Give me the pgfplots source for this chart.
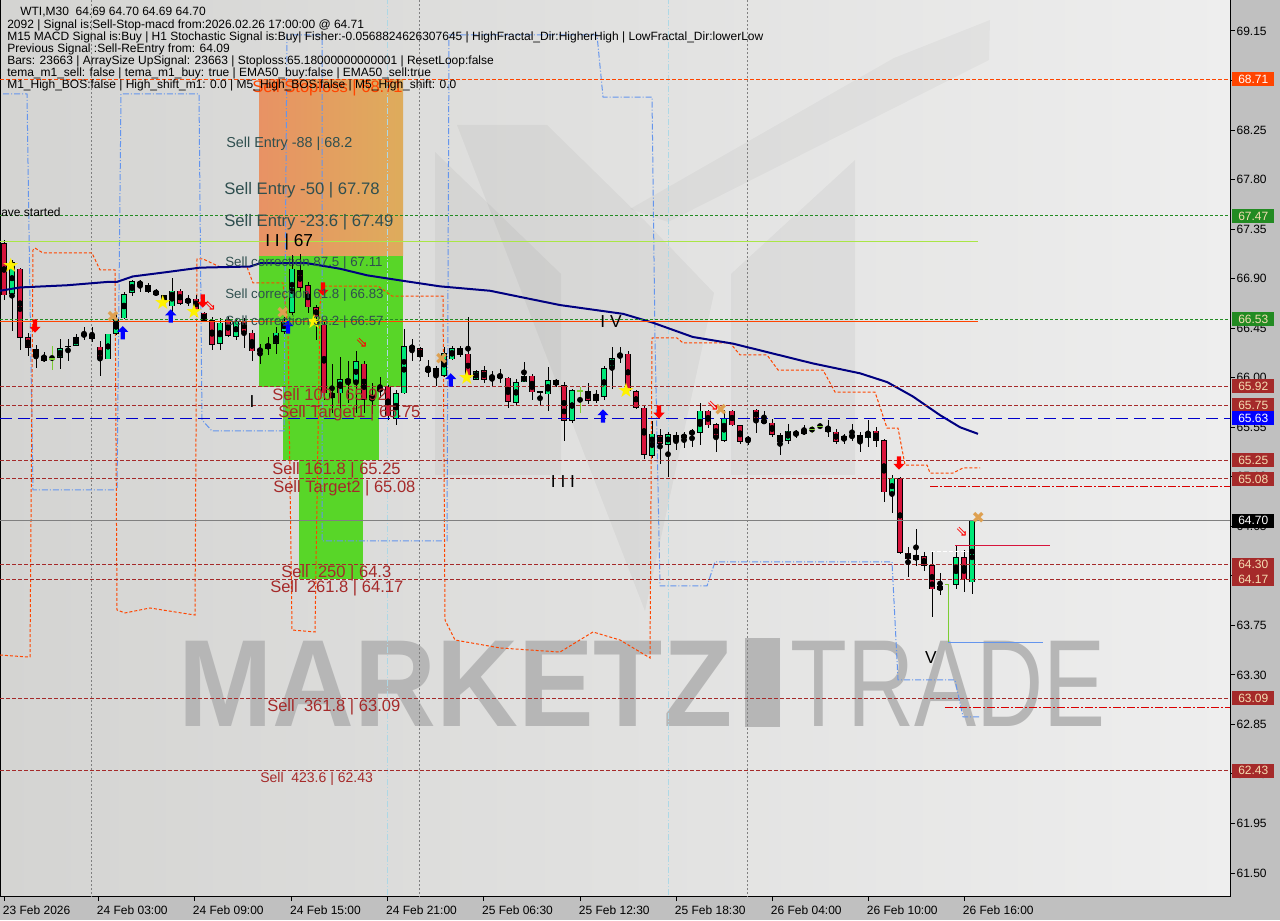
\documentclass[border=0pt]{standalone}
\usepackage{fontspec}
\setmainfont{Liberation Sans}
\newfontfamily\dejavu{DejaVu Sans}
\usepackage{pgfplots}
\pgfplotsset{compat=1.18}
\usepackage{pgfplotstable}

\definecolor{outerbg}{RGB}{192,192,192}
\definecolor{bgL}{RGB}{212,212,210}
\definecolor{bgR}{RGB}{238,238,238}
\definecolor{bull}{RGB}{0,232,120}
\definecolor{bear}{RGB}{215,20,60}
\definecolor{lgr}{RGB}{124,205,50}
\definecolor{emac}{RGB}{0,0,128}
\definecolor{brownl}{RGB}{165,42,42}
\definecolor{orred}{RGB}{255,69,0}
\definecolor{fgreen}{RGB}{34,139,34}
\definecolor{slate}{RGB}{47,79,79}
\definecolor{ygreen}{RGB}{170,230,70}
\definecolor{cblue}{RGB}{100,149,237}
\definecolor{boxgreen}{RGB}{88,214,40}
\definecolor{orL}{RGB}{232,146,100}
\definecolor{orR}{RGB}{222,172,92}
\definecolor{lcyan}{RGB}{173,216,230}
\definecolor{tanx}{RGB}{222,160,80}
\definecolor{wheatt}{RGB}{245,222,179}
\definecolor{wm}{RGB}{182,182,182}

\pgfdeclareplotmark{uparr}{%
  \pgfpathmoveto{\pgfqpoint{0pt}{5pt}}%
  \pgfpathlineto{\pgfqpoint{4.2pt}{0.6pt}}%
  \pgfpathlineto{\pgfqpoint{1.6pt}{0.6pt}}%
  \pgfpathlineto{\pgfqpoint{1.6pt}{-5pt}}%
  \pgfpathlineto{\pgfqpoint{-1.6pt}{-5pt}}%
  \pgfpathlineto{\pgfqpoint{-1.6pt}{0.6pt}}%
  \pgfpathlineto{\pgfqpoint{-4.2pt}{0.6pt}}%
  \pgfpathclose\pgfusepathqfill}
\pgfdeclareplotmark{dnarr}{%
  \pgfpathmoveto{\pgfqpoint{0pt}{-5pt}}%
  \pgfpathlineto{\pgfqpoint{4.2pt}{-0.6pt}}%
  \pgfpathlineto{\pgfqpoint{1.6pt}{-0.6pt}}%
  \pgfpathlineto{\pgfqpoint{1.6pt}{5pt}}%
  \pgfpathlineto{\pgfqpoint{-1.6pt}{5pt}}%
  \pgfpathlineto{\pgfqpoint{-1.6pt}{-0.6pt}}%
  \pgfpathlineto{\pgfqpoint{-4.2pt}{-0.6pt}}%
  \pgfpathclose\pgfusepathqfill}

\pgfplotstableread{
i O H L C
1 66.76 67.07 66.42 67.05
7 66.18 66.35 66.08 66.27
9 66.29 66.40 66.29 66.37
10 66.38 66.46 66.34 66.40
13 66.17 66.40 66.17 66.40
14 66.40 66.60 66.39 66.53
15 66.54 66.78 66.53 66.76
16 66.77 66.89 66.74 66.88
21 66.65 66.91 66.60 66.79
23 66.68 66.75 66.65 66.72
27 66.31 66.54 66.25 66.50
29 66.37 66.54 66.34 66.51
32 66.24 66.31 66.13 66.26
33 66.26 66.37 66.21 66.31
34 66.31 66.46 66.22 66.41
35 66.42 66.55 66.40 66.52
36 66.59 67.12 66.57 66.99
41 65.82 66.13 65.68 65.86
42 65.86 66.19 65.69 65.99
44 65.96 66.24 65.68 66.15
46 65.80 65.95 65.67 65.84
47 65.88 66.01 65.82 65.91
49 65.63 65.89 65.57 65.86
50 65.86 66.44 65.85 66.29
53 66.05 66.16 66.01 66.09
55 66.02 66.28 66.01 66.22
56 66.17 66.29 66.16 66.27
59 65.98 66.07 65.98 66.06
61 65.99 66.06 65.92 66.02
64 65.77 65.99 65.75 65.96
65 65.96 66.14 65.96 66.02
68 65.85 66.10 65.70 65.98
71 65.61 65.90 65.59 65.89
74 65.79 65.89 65.77 65.85
75 65.83 66.11 65.80 66.09
76 66.10 66.28 65.90 66.18
77 66.19 66.28 66.13 66.21
81 65.29 65.61 65.27 65.49
83 65.39 65.51 65.10 65.49
85 65.45 65.51 65.36 65.48
86 65.49 65.53 65.37 65.51
87 65.50 65.77 65.39 65.70
90 65.43 65.71 65.42 65.63
93 65.43 65.47 65.39 65.45
98 65.43 65.58 65.40 65.52
100 65.49 65.57 65.48 65.53
105 65.43 65.49 65.40 65.47
106 65.46 65.58 65.43 65.48
108 65.45 65.62 65.37 65.51
111 64.94 65.12 64.77 65.09
114 64.34 64.63 64.29 64.39
117 64.07 64.23 64.03 64.11
119 64.12 64.47 64.08 64.37
121 64.14 64.70 64.04 64.70
}\bulltab

\pgfplotstableread{
i O H L C
0 67.22 67.25 66.71 66.75
2 66.99 67.00 66.25 66.36
3 66.37 66.41 66.20 66.27
4 66.26 66.30 66.09 66.20
5 66.20 66.23 66.14 66.15
11 66.40 66.46 66.32 66.35
12 66.28 66.33 66.02 66.17
17 66.87 66.89 66.78 66.84
18 66.84 66.86 66.77 66.78
19 66.79 66.81 66.74 66.75
20 66.75 66.75 66.65 66.69
22 66.79 66.81 66.66 66.67
24 66.72 66.75 66.60 66.62
25 66.59 66.60 66.51 66.52
26 66.52 66.55 66.25 66.30
28 66.53 66.55 66.37 66.38
30 66.52 66.54 66.27 66.42
31 66.41 66.43 66.15 66.24
37 66.98 67.12 66.78 66.82
38 66.84 66.87 66.59 66.64
39 66.64 66.66 66.34 66.55
40 66.48 66.51 65.80 65.86
43 65.99 66.15 65.77 65.95
45 66.13 66.15 65.68 65.80
48 65.92 65.93 65.62 65.65
51 66.29 66.35 66.15 66.26
52 66.27 66.28 66.15 66.19
54 66.09 66.11 65.93 66.02
57 66.27 66.29 66.19 66.21
58 66.22 66.55 65.98 66.00
60 66.07 66.11 65.95 65.98
62 66.03 66.08 65.95 66.00
63 66.00 66.01 65.73 65.78
66 66.02 66.03 65.80 65.87
69 65.98 65.99 65.92 65.93
70 65.93 65.96 65.43 65.61
73 65.88 65.95 65.76 65.79
78 66.22 66.24 65.86 65.88
79 65.88 65.89 65.72 65.73
80 65.73 65.74 65.26 65.30
82 65.48 65.53 65.22 65.40
84 65.48 65.51 65.34 65.43
88 65.70 65.71 65.54 65.57
89 65.58 65.59 65.33 65.45
91 65.70 65.71 65.56 65.57
92 65.57 65.57 65.40 65.42
94 65.71 65.72 65.50 65.62
95 65.62 65.70 65.58 65.59
96 65.59 65.63 65.46 65.48
97 65.48 65.50 65.30 65.42
99 65.51 65.53 65.45 65.48
103 65.55 65.62 65.46 65.51
104 65.51 65.53 65.40 65.42
107 65.48 65.51 65.33 65.43
109 65.52 65.55 65.37 65.43
110 65.43 65.44 64.87 64.96
112 65.09 65.10 64.40 64.41
113 64.41 64.46 64.19 64.35
115 64.38 64.42 64.24 64.29
116 64.30 64.42 63.83 64.08
120 64.37 64.44 64.05 64.17
}\beartab

\pgfplotstableread{
i O H L C
8 66.28 66.35 66.15 66.28
67 65.87 65.88 65.75 65.87
}\dojitab

\pgfplotstableread{
i O H L C
6 66.17 66.29 66.07 66.17
72 65.88 65.92 65.68 65.88
101 65.53 65.56 65.50 65.53
102 65.56 65.59 65.53 65.56
}\lgtab

\pgfplotsset{
  wick/.style={only marks, mark=none, forget plot,
    error bars/.cd, y dir=both, y explicit, error mark=none,
    error bar style={line width=0.75pt, draw=#1}},
  bodyout/.style={only marks, mark=none, forget plot,
    error bars/.cd, y dir=both, y explicit, error mark=none,
    error bar style={line width=4.6pt, draw=black}},
  bodyin/.style={only marks, mark=none, forget plot,
    error bars/.cd, y dir=both, y explicit, error mark=none,
    error bar style={line width=3.6pt, draw=#1}},
  brownd/.style={brownl, line width=0.75pt, dash pattern=on 3pt off 1.5pt, forget plot},
  greend/.style={fgreen, line width=0.75pt, dash pattern=on 2.25pt off 1.5pt, forget plot},
}

\begin{document}
\begin{tikzpicture}
\fill[outerbg] (0,0) rectangle (960pt,690pt);
\path[use as bounding box] (0,0) rectangle (960pt,690pt);
\begin{scope}[shift={(0pt,690pt)}, x=0.75pt, y=-0.75pt]
  \shade[left color=bgL, right color=bgR] (0,0) rectangle (1230,896);
  % logo (subtle)
  \fill[black, opacity=0.04] (435,152) -- (561,274) -- (561,475) -- (435,475) -- cycle;
  \fill[black, opacity=0.04] (457,125) -- (547,125) -- (645,221) -- (714,293) -- (645,611) -- cycle;
  \fill[black, opacity=0.04] (731,274) -- (855,160) -- (855,475) -- (731,475) -- cycle;
  \fill[black, opacity=0.03] (630,209) -- (894,58) -- (990,20) -- (989,60) -- (668,222) -- cycle;
  % watermark
  \node[anchor=base west, inner sep=0pt, text=wm, font=\bfseries\fontsize{93}{93}\selectfont] at (178,727) {\scalebox{0.914}[1]{MARKETZ}};
  \fill[wm] (745,638) rectangle (780,727);
  \node[anchor=base west, inner sep=0pt, text=wm, font=\fontsize{93}{93}\selectfont] at (790,727) {\scalebox{0.75}[1]{TRADE}};
\end{scope}

\begin{axis}[
  at={(0pt,18pt)}, anchor=south west,
  scale only axis, width=922.5pt, height=672pt,
  xmin=-0.5, xmax=153.25, ymin=61.2915, ymax=69.4316,
  axis line style={black, line width=0.75pt},
  tick align=outside, major tick length=3.75pt,
  tick style={black, line width=0.75pt},
  xtick pos=left, ytick pos=right, yticklabel pos=right,
  xtick={0,11.75,23.75,35.9,47.9,59.9,72,84,96,108,120},
  xticklabels={23 Feb 2026,24 Feb 03:00,24 Feb 09:00,24 Feb 15:00,24 Feb 21:00,25 Feb 06:30,25 Feb 12:30,25 Feb 18:30,26 Feb 04:00,26 Feb 10:00,26 Feb 16:00},
  xticklabel style={anchor=north west, inner xsep=0pt, xshift=-1pt, font=\fontsize{9}{10}\selectfont},
  ytick={61.5,61.95,62.4,62.85,63.3,63.75,64.2,64.65,65.1,65.55,66,66.45,66.9,67.35,67.8,68.25,68.7,69.15},
  yticklabels={61.50,61.95,62.40,62.85,63.30,63.75,64.20,64.65,65.10,65.55,66.00,66.45,66.90,67.35,67.80,68.25,68.70,69.15},
  yticklabel style={anchor=west, inner xsep=1pt, font=\fontsize{9}{10}\selectfont},
]
% zones
\addplot[draw=none, left color=orL, right color=orR, forget plot] coordinates {(31.875,67.11) (49.875,67.11) (49.875,68.71) (31.875,68.71)} -- cycle;
\addplot[draw=none, fill=boxgreen, forget plot] coordinates {(31.875,65.92) (49.875,65.92) (49.875,67.11) (31.875,67.11)} -- cycle;
\addplot[draw=none, fill=boxgreen, forget plot] coordinates {(34.875,65.25) (46.875,65.25) (46.875,65.92) (34.875,65.92)} -- cycle;
\addplot[draw=none, fill=boxgreen, forget plot] coordinates {(36.875,64.17) (44.875,64.17) (44.875,65.25) (36.875,65.25)} -- cycle;

% vertical grid / separators
\addplot[gray, line width=0.75pt, dash pattern=on 1.5pt off 1.5pt, forget plot] coordinates {(10.94,61.2) (10.94,69.5)};
\addplot[gray, line width=0.75pt, dash pattern=on 1.5pt off 1.5pt, forget plot] coordinates {(51.94,61.2) (51.94,69.5)};
\addplot[gray, line width=0.75pt, dash pattern=on 1.5pt off 1.5pt, forget plot] coordinates {(92.94,61.2) (92.94,69.5)};
\addplot[lcyan, line width=0.75pt, dash pattern=on 4.5pt off 1.5pt on 0.75pt off 1.5pt, forget plot] coordinates {(47.875,61.2) (47.875,69.5)};
\addplot[lcyan, line width=0.75pt, dash pattern=on 4.5pt off 1.5pt on 0.75pt off 1.5pt, forget plot] coordinates {(83,61.2) (83,69.5)};

% fractal step lines
\addplot[cblue, line width=0.75pt, dash pattern=on 4.5pt off 1.5pt on 0.75pt off 1.5pt, forget plot] coordinates {
(-0.125,68.578) (2.875,68.578) (3.25,66.706) (3.625,64.98) (14.125,64.98) (14.625,68.578) (24.375,68.578)
(24.75,65.616) (26,65.516) (35,65.516) (35.375,69.114) (39.75,69.114) (39.75,64.517) (55.375,64.517)
(55.625,69.114) (74.125,69.114) (74.875,68.55) (81,68.55) (81.375,66.343) (82,64.108) (87.875,64.108)
(88.875,64.326) (111,64.326) (111.75,63.254) (118.875,63.254) (119.875,62.918) (122,62.918)};
\addplot[orred, line width=0.75pt, dash pattern=on 2.25pt off 1.5pt, forget plot] coordinates {
(-0.5,63.481) (2.875,63.463) (3.25,63.463) (3.625,67.16) (3.875,67.178) (4.875,67.133) (11,67.133)
(12,66.979) (13.875,66.979) (14.125,63.89) (15.125,63.863) (18.25,63.908) (21.375,63.872) (23.875,63.844)
(24.125,67.079) (24.875,67.079) (27,67.006) (30.375,67.006) (31.125,66.861) (34.875,66.861) (35.5,66.434)
(36,63.708) (38.875,63.69) (39.5,66.66) (39.75,66.833) (46.75,66.833) (48.5,66.742) (54.875,66.742)
(55.125,63.799) (56.375,63.617) (62,63.545) (65.75,63.526) (69.5,63.508) (73.625,63.69) (77,63.617)
(80.75,63.454) (81,66.361) (84.125,66.361) (84.875,66.316) (90.75,66.316) (92,66.207) (95.375,66.207)
(96.75,66.07) (102.375,66.07) (103.875,65.87) (108.875,65.87) (110.375,65.543) (111.75,65.543)
(112.625,65.207) (115.375,65.207) (115.75,65.134) (118.625,65.134) (119.875,65.18) (122,65.18)};

% candles: wicks
\addplot[wick=black] table[x=i, y expr={(\thisrow{H}+\thisrow{L})/2}, y error expr={(\thisrow{H}-\thisrow{L})/2}] {\bulltab};
\addplot[wick=black] table[x=i, y expr={(\thisrow{H}+\thisrow{L})/2}, y error expr={(\thisrow{H}-\thisrow{L})/2}] {\beartab};
\addplot[wick=black] table[x=i, y expr={(\thisrow{H}+\thisrow{L})/2}, y error expr={(\thisrow{H}-\thisrow{L})/2}] {\dojitab};
\addplot[wick=lgr] table[x=i, y expr={(\thisrow{H}+\thisrow{L})/2}, y error expr={(\thisrow{H}-\thisrow{L})/2}] {\lgtab};
% bodies
\addplot[bodyout] table[x=i, y expr={(\thisrow{O}+\thisrow{C})/2}, y error expr={abs(\thisrow{O}-\thisrow{C})/2}] {\bulltab};
\addplot[bodyin=bull] table[x=i, y expr={(\thisrow{O}+\thisrow{C})/2}, y error expr={max(abs(\thisrow{O}-\thisrow{C})/2-0.0055,0)}] {\bulltab};
\addplot[bodyout] table[x=i, y expr={(\thisrow{O}+\thisrow{C})/2}, y error expr={abs(\thisrow{O}-\thisrow{C})/2}] {\beartab};
\addplot[bodyin=bear] table[x=i, y expr={(\thisrow{O}+\thisrow{C})/2}, y error expr={max(abs(\thisrow{O}-\thisrow{C})/2-0.0055,0)}] {\beartab};
\addplot[only marks, mark=-, mark size=2.25pt, mark options={black, line width=0.9pt}, forget plot] table[x=i, y=O] {\dojitab};
\addplot[only marks, mark=-, mark size=2.25pt, mark options={lgr, line width=0.9pt}, forget plot] table[x=i, y=O] {\lgtab};
% indicator line at the right end
\addplot[lgr, line width=0.75pt, forget plot] coordinates {(117.6,64.12) (118,64.12) (118,63.59)};
\addplot[cblue, line width=0.75pt, forget plot] coordinates {(118,63.59) (129.9,63.59)};

% EMA
\addplot[emac, line width=1.5pt, forget plot] coordinates {
(-0.5,66.79) (2,66.82) (7.9,66.84) (12.9,66.87) (14.1,66.87) (16.1,66.92) (20.4,66.96) (24.5,67.00)
(30.75,67.01) (32,67.04) (37.9,67.04) (42,66.99) (45.4,66.93) (49.9,66.88) (54.5,66.83) (60.75,66.79)
(69.5,66.66) (77.4,66.58) (81.1,66.50) (86.1,66.37) (91.1,66.31) (96.1,66.22) (101.1,66.13) (107,66.04)
(110.4,65.96) (113.6,65.83) (117,65.66) (119.5,65.55) (121.75,65.49)};

% horizontal levels
\addplot[orred, line width=0.75pt, dash pattern=on 3pt off 1.5pt, forget plot] coordinates {(-0.5,68.71) (153.25,68.71)};
\addplot[greend] coordinates {(-0.5,67.47) (153.25,67.47)};
\addplot[ygreen, line width=0.75pt, forget plot] coordinates {(-0.5,67.24) (121.75,67.24)};
\addplot[greend] coordinates {(-0.5,66.53) (153.25,66.53)};
\addplot[orred, line width=0.75pt, forget plot] coordinates {(-0.5,66.51) (121.75,66.51)};
\addplot[brownd] coordinates {(-0.5,65.92) (153.25,65.92)};
\addplot[brownd] coordinates {(-0.5,65.75) (153.25,65.75)};
\addplot[blue!80!black, line width=0.75pt, dash pattern=on 9pt off 4.5pt, forget plot] coordinates {(-0.5,65.63) (153.25,65.63)};
\addplot[brownd] coordinates {(-0.5,65.25) (153.25,65.25)};
\addplot[brownd] coordinates {(-0.5,65.08) (153.25,65.08)};
\addplot[gray, line width=0.75pt, forget plot] coordinates {(-0.5,64.70) (153.25,64.70)};
\addplot[brownd] coordinates {(-0.5,64.30) (153.25,64.30)};
\addplot[brownd] coordinates {(-0.5,64.17) (153.25,64.17)};
\addplot[brownd] coordinates {(-0.5,63.09) (153.25,63.09)};
\addplot[brownd] coordinates {(-0.5,62.43) (153.25,62.43)};
\addplot[red!85!black, line width=0.75pt, dash pattern=on 6pt off 1.5pt on 1.5pt off 1.5pt, forget plot] coordinates {(115.75,65.01) (153.25,65.01)};
\addplot[red!85!black, line width=0.75pt, dash pattern=on 6pt off 1.5pt on 1.5pt off 1.5pt, forget plot] coordinates {(117.6,63.00) (153.25,63.00)};
\addplot[bear, line width=0.75pt, forget plot] coordinates {(118.9,64.48) (130.75,64.48)};
\addplot[white, line width=0.75pt, dash pattern=on 3pt off 1.5pt, forget plot] coordinates {(115.9,64.42) (121.4,64.42)};

% signal marks
\addplot[only marks, mark=text, text mark={\fontsize{15}{15}\selectfont\dejavu\color{yellow}★}, forget plot] coordinates {
(0.84,67.024) (19.84,66.682) (23.75,66.60) (38.75,66.51) (57.84,66.004) (77.75,65.888)};
\addplot[only marks, mark=uparr, color=blue, mark options={fill=blue, draw=none}, forget plot] coordinates {
(14.84,66.409) (20.84,66.56) (35.5,66.461) (55.84,65.98) (74.875,65.652)};
\addplot[only marks, mark=dnarr, color=red, mark options={fill=red, draw=none}, forget plot] coordinates {
(3.875,66.47) (24.84,66.697) (39.875,66.806) (81.875,65.689) (111.875,65.225)};
\addplot[only marks, mark=text, text mark={\fontsize{12}{12}\selectfont\dejavu\color{tanx}✖}, forget plot] coordinates {
(13.625,66.554) (34.84,66.59) (54.71,66.167) (89.59,65.707) (121.79,64.723)};
\addplot[only marks, mark=text, text mark={\fontsize{11}{11}\selectfont\dejavu\color{red}⇘}, forget plot] coordinates {
(25.75,66.65) (44.71,66.318) (88.625,65.743) (119.71,64.601)};
\end{axis}

\begin{scope}[shift={(0pt,690pt)}, x=0.75pt, y=-0.75pt]
  % info text
  \begin{scope}[every node/.style={anchor=west, inner sep=0pt, font=\fontsize{9}{9}\selectfont}]
  \node at (20,12) {WTI,M30\ \ 64.69 64.70 64.69 64.70};
  \node at (7,25) {2092 | Signal is:Sell-Stop-macd from:2026.02.26 17:00:00 @ 64.71};
  \node at (7,37) {M15 MACD Signal is:Buy | H1 Stochastic Signal is:Buy| Fisher:-0.0568824626307645 | HighFractal\_Dir:HigherHigh | LowFractal\_Dir:lowerLow};
  \node at (7,49) {Previous Signal :Sell-ReEntry from: 64.09};
  \node at (7,61) {Bars: 23663 | ArraySize UpSignal: 23663 | Stoploss:65.18000000000001 | ResetLoop:false};
  \node at (7,73) {tema\_m1\_sell: false | tema\_m1\_buy: true | EMA50\_buy:false | EMA50\_sell:true};
  \node[text=orred, font=\fontsize{12.4}{13}\selectfont] at (252,88) {Sell Stoploss | 68.71};
  \node at (7,85) {M1\_High\_BOS:false | High\_shift\_m1: 0.0 | M5\_High\_BOS:false | M5\_High\_shift: 0.0};
  \node[font=\fontsize{9}{10}\selectfont] at (1,212) {ave started};
  \end{scope}
  % level texts
  \begin{scope}[every node/.style={anchor=west, inner sep=0pt}]
  \node[text=slate, font=\fontsize{10.8}{12}\selectfont] at (226,144) {Sell Entry -88 | 68.2};
  \node[text=slate, font=\fontsize{12.5}{13}\selectfont] at (224,190) {Sell Entry -50 | 67.78};
  \node[text=slate, font=\fontsize{12.5}{13}\selectfont] at (224,222) {Sell Entry -23.6 | 67.49};
  \node[text=black, font=\fontsize{13}{14}\selectfont] at (265,242) {I I | 67};
  \node[text=slate, font=\fontsize{10}{11}\selectfont] at (225,263) {Sell correction 87.5 | 67.11};
  \node[text=slate, font=\fontsize{10}{11}\selectfont] at (225,295) {Sell correction 61.8 | 66.83};
  \node[text=slate, font=\fontsize{10}{11}\selectfont] at (225,322) {Sell correction 38.2 | 66.57};
  \node[text=brownl, font=\fontsize{12.4}{13}\selectfont] at (272,396) {Sell 100 | 65.92};
  \node[text=brownl, font=\fontsize{12.4}{13}\selectfont] at (278,413) {Sell Target1 | 65.75};
  \node[text=brownl, font=\fontsize{12.4}{13}\selectfont] at (272,470) {Sell 161.8 | 65.25};
  \node[text=brownl, font=\fontsize{12.4}{13}\selectfont] at (273,488) {Sell Target2 | 65.08};
  \node[text=brownl, font=\fontsize{12.4}{13}\selectfont] at (281,573) {Sell\ \ 250 | 64.3};
  \node[text=brownl, font=\fontsize{12.4}{13}\selectfont] at (270,588) {Sell\ \ 261.8 | 64.17};
  \node[text=brownl, font=\fontsize{12.4}{13}\selectfont] at (267,707) {Sell\ \ 361.8 | 63.09};
  \node[text=brownl, font=\fontsize{10.5}{12}\selectfont] at (260,779) {Sell\ \ 423.6 | 62.43};
  \end{scope}
  \begin{scope}[every node/.style={inner sep=0pt, text=black, font=\fontsize{13}{14}\selectfont}]
  \node at (252,402) {I};
  \node at (563,482) {I I I};
  \node at (611,322) {I V};
  \node at (931,658) {V};
  \end{scope}
  % right price boxes
  \begin{scope}[every node/.style={anchor=west, inner sep=0pt, minimum width=31.5pt, minimum height=10.5pt, font=\fontsize{9}{9}\selectfont}]
  \node[fill=orred, text=white] at (1232,79.4) {68.71};
  \node[fill=fgreen, text=wheatt] at (1232,215.9) {67.47};
  \node[fill=fgreen, text=wheatt] at (1232,319.4) {66.53};
  \node[fill=brownl, text=wheatt] at (1232,386.5) {65.92};
  \node[fill=brownl, text=wheatt] at (1232,405.2) {65.75};
  \node[fill=blue, text=white] at (1232,418.4) {65.63};
  \node[fill=brownl, text=wheatt] at (1232,460.3) {65.25};
  \node[fill=brownl, text=wheatt] at (1232,479.0) {65.08};
  \node[fill=black, text=white] at (1232,520.8) {64.70};
  \node[fill=brownl, text=wheatt] at (1232,564.8) {64.30};
  \node[fill=brownl, text=wheatt] at (1232,579.1) {64.17};
  \node[fill=brownl, text=wheatt] at (1232,698.0) {63.09};
  \node[fill=brownl, text=wheatt] at (1232,770.7) {62.43};
  \end{scope}
\end{scope}
\end{tikzpicture}
\end{document}
